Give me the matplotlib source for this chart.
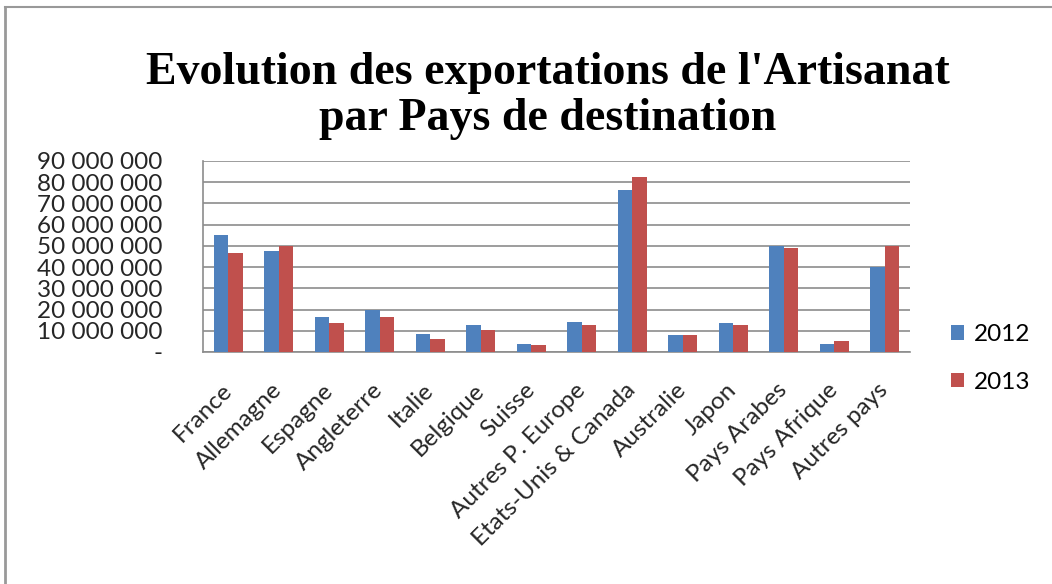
import matplotlib
matplotlib.use("Agg")
import matplotlib.pyplot as plt
import numpy as np
from matplotlib.lines import Line2D

categories = ["France", "Allemagne", "Espagne", "Angleterre", "Italie", "Belgique",
              "Suisse", "Autres P. Europe", "Etats-Unis & Canada", "Australie",
              "Japon", "Pays Arabes", "Pays Afrique", "Autres pays"]
values_2012 = [54.9, 47.7, 16.7, 19.9, 8.5, 12.5, 3.9, 14.2, 76.3, 8.1, 13.6, 49.9, 3.9, 40.1]
values_2013 = [46.6, 49.9, 13.7, 16.7, 6.3, 10.6, 3.3, 12.5, 82.4, 8.1, 12.9, 48.8, 5.2, 49.9]
series_labels = ["2012", "2013"]
yticks = [0, 10e6, 20e6, 30e6, 40e6, 50e6, 60e6, 70e6, 80e6, 90e6]
ytick_labels = ["-", "10 000 000", "20 000 000", "30 000 000", "40 000 000",
                "50 000 000", "60 000 000", "70 000 000", "80 000 000", "90 000 000"]
title = "Evolution des exportations de l'Artisanat\npar Pays de destination"

fig = plt.figure(figsize=(10.52, 5.84), dpi=100)
ax = fig.add_axes([203/1052, 1-352/584, (910-203)/1052, (352-161)/584])

x = np.arange(len(categories))
w = 0.29
v12 = np.array(values_2012) * 1e6
v13 = np.array(values_2013) * 1e6
ax.bar(x - w/2, v12, w, color="#4F81BD", label=series_labels[0], zorder=3)
ax.bar(x + w/2, v13, w, color="#C0504D", label=series_labels[1], zorder=3)

ax.set_xlim(-0.5, len(categories) - 0.5)
ax.set_ylim(0, 90e6)
ax.set_yticks(yticks)
ax.set_yticklabels(ytick_labels, fontsize=17.5, family="Lato", color="#262626")
ax.set_xticks(x)
ax.set_xticklabels(categories, rotation=45, ha="right", va="center", rotation_mode="anchor",
                   fontsize=17.5, family="Lato", color="#262626")
ax.tick_params(axis="y", length=0, pad=29)
ax.tick_params(axis="x", length=0, pad=25)
ax.yaxis.grid(True, color="#8c8c8c", linewidth=1.2, zorder=0)
for s in ["top", "right"]:
    ax.spines[s].set_visible(False)
ax.spines["left"].set_color("#8c8c8c")
ax.spines["bottom"].set_color("#8c8c8c")
ax.spines["left"].set_linewidth(1.2)
ax.spines["bottom"].set_linewidth(1.2)

fig.text(548/1052, 1-96/584, title, ha="center", va="center", fontsize=33,
         family="Liberation Serif", fontweight="bold", linespacing=1.1)

leg = fig.legend(loc="upper left", bbox_to_anchor=(929/1052, 1-302/584), frameon=False,
                 prop={"family": "Lato", "size": 17.5}, handlelength=0.55, handleheight=0.55,
                 labelspacing=1.1, handletextpad=0.4)

fig.add_artist(Line2D([5/1052, 5/1052], [0, 1-7/584], color="#999999", linewidth=2, transform=fig.transFigure))
fig.add_artist(Line2D([5/1052, 1], [1-7/584, 1-7/584], color="#999999", linewidth=1.5, transform=fig.transFigure))

fig.savefig("out.png", dpi=100)
